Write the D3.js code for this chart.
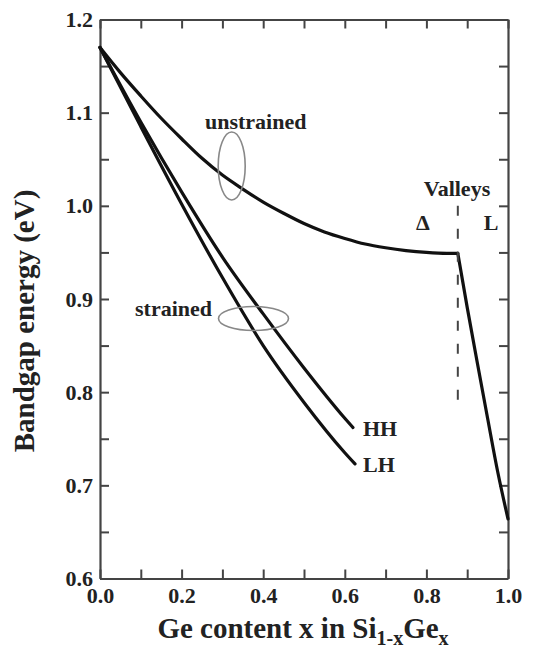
<!DOCTYPE html>
<html>
<head>
<meta charset="utf-8">
<script src="https://cdn.jsdelivr.net/npm/d3@7"></script>
<style>
  html, body { margin: 0; padding: 0; background: #fff; }
  svg text { font-family: "Liberation Serif", "Times New Roman", serif; font-weight: bold; fill: #222; }
</style>
</head>
<body>
<svg id="chart" width="539" height="652"></svg>
<script>
// ---- data ----
const unstrainedX = [0, 0.05, 0.1, 0.15, 0.2, 0.25, 0.3, 0.35, 0.4, 0.45, 0.5, 0.55, 0.6, 0.65, 0.7, 0.75, 0.8, 0.85, 0.877];
const unstrainedE = [1.170, 1.143, 1.118, 1.094, 1.072, 1.051, 1.033, 1.018, 1.004, 0.992, 0.981, 0.972, 0.965, 0.959, 0.955, 0.952, 0.950, 0.949, 0.949];
const lValleyX = [0.877, 0.90, 0.925, 0.95, 0.975, 1.0];
const lValleyE = [0.949, 0.891, 0.831, 0.772, 0.714, 0.664];
const hhX = [0, 0.1, 0.2, 0.3, 0.4, 0.5, 0.6, 0.62];
const hhE = [1.170, 1.090, 1.015, 0.945, 0.884, 0.826, 0.772, 0.762];
const lhX = [0, 0.1, 0.2, 0.3, 0.4, 0.5, 0.6, 0.625];
const lhE = [1.170, 1.085, 1.002, 0.923, 0.850, 0.789, 0.735, 0.723];
const valleyBoundaryX = 0.877;
const valleyBoundaryE = [1.0, 0.787];
const xTicks = [0, 0.1, 0.2, 0.3, 0.4, 0.5, 0.6, 0.7, 0.8, 0.9, 1.0];
const xTickLabels = ["0.0", "", "0.2", "", "0.4", "", "0.6", "", "0.8", "", "1.0"];
const yTicks = [0.6, 0.65, 0.7, 0.75, 0.8, 0.85, 0.9, 0.95, 1.0, 1.05, 1.1, 1.15, 1.2];
const yTickLabels = ["0.6", "", "0.7", "", "0.8", "", "0.9", "", "1.0", "", "1.1", "", "1.2"];

// ---- layout ----
const svg = d3.select("#chart");
const L = 100, R = 508, T = 19.5, B = 578.5;
const x = d3.scaleLinear().domain([0, 1]).range([L, R]);
const y = d3.scaleLinear().domain([0.6, 1.2]).range([B, T]);
const frameColor = "#444";

function styleAxis(g) {
  g.selectAll("path.domain").attr("stroke", frameColor).attr("stroke-width", 2.2);
  g.selectAll(".tick line").attr("stroke", frameColor).attr("stroke-width", 2);
  g.selectAll(".tick text").attr("font-size", 22).attr("fill", "#222")
    .attr("font-family", "Liberation Serif, Times New Roman, serif").attr("font-weight", "bold");
}

const xLab = (d) => xTickLabels[xTicks.indexOf(d)];
const yLab = (d) => yTickLabels[yTicks.indexOf(d)];

svg.append("g").attr("transform", `translate(0,${B})`)
  .call(d3.axisBottom(x).tickValues(xTicks).tickSizeInner(-9).tickSizeOuter(0).tickPadding(9).tickFormat(xLab))
  .call(styleAxis);
svg.append("g").attr("transform", `translate(0,${T})`)
  .call(d3.axisTop(x).tickValues(xTicks).tickSizeInner(-9).tickSizeOuter(0).tickFormat(""))
  .call(styleAxis);
svg.append("g").attr("transform", `translate(${L},0)`)
  .call(d3.axisLeft(y).tickValues(yTicks).tickSizeInner(-9).tickSizeOuter(0).tickPadding(7).tickFormat(yLab))
  .call(styleAxis);
svg.append("g").attr("transform", `translate(${R},0)`)
  .call(d3.axisRight(y).tickValues(yTicks).tickSizeInner(-9).tickSizeOuter(0).tickFormat(""))
  .call(styleAxis);

// ---- curves ----
const line = d3.line().x(d => x(d[0])).y(d => y(d[1])).curve(d3.curveMonotoneX);
const zip = (a, b) => a.map((v, i) => [v, b[i]]);
const curves = [zip(unstrainedX, unstrainedE), zip(lValleyX, lValleyE), zip(hhX, hhE), zip(lhX, lhE)];
svg.append("g").selectAll("path").data(curves).join("path")
  .attr("d", line).attr("fill", "none").attr("stroke", "#111")
  .attr("stroke-width", 3.2).attr("stroke-linejoin", "round").attr("stroke-linecap", "round");

// valley boundary dashed line
svg.append("line")
  .attr("x1", x(valleyBoundaryX)).attr("x2", x(valleyBoundaryX))
  .attr("y1", y(valleyBoundaryE[0])).attr("y2", y(valleyBoundaryE[1]))
  .attr("stroke", "#444").attr("stroke-width", 2).attr("stroke-dasharray", "10,13");

// ---- annotations ----
svg.append("ellipse").attr("cx", 231.7).attr("cy", 166).attr("rx", 13.5).attr("ry", 34)
  .attr("fill", "none").attr("stroke", "#888").attr("stroke-width", 1.6);
svg.append("ellipse").attr("cx", 253.5).attr("cy", 318.5).attr("rx", 35).attr("ry", 12)
  .attr("fill", "none").attr("stroke", "#888").attr("stroke-width", 1.6);

const ann = [
  {t: "unstrained", x: 205, y: 129, a: "start"},
  {t: "strained", x: 135, y: 316, a: "start"},
  {t: "Valleys", x: 457, y: 196, a: "middle"},
  {t: "\u0394", x: 423, y: 230, a: "middle"},
  {t: "L", x: 491, y: 230, a: "middle"},
  {t: "HH", x: 363, y: 436, a: "start"},
  {t: "LH", x: 363, y: 472, a: "start"}
];
svg.append("g").selectAll("text").data(ann).join("text")
  .attr("x", d => d.x).attr("y", d => d.y).attr("text-anchor", d => d.a)
  .attr("font-size", 22).text(d => d.t);

// ---- axis titles ----
const xt = svg.append("text").attr("x", 303).attr("y", 638).attr("text-anchor", "middle").attr("font-size", 29);
xt.append("tspan").text("Ge content x in Si");
xt.append("tspan").attr("font-size", 20).attr("dy", 7).text("1-x");
xt.append("tspan").attr("dy", -7).text("Ge");
xt.append("tspan").attr("font-size", 20).attr("dy", 7).text("x");

svg.append("text").attr("transform", `translate(34,321) rotate(-90)`)
  .attr("text-anchor", "middle").attr("font-size", 29).text("Bandgap energy (eV)");
</script>
</body>
</html>
